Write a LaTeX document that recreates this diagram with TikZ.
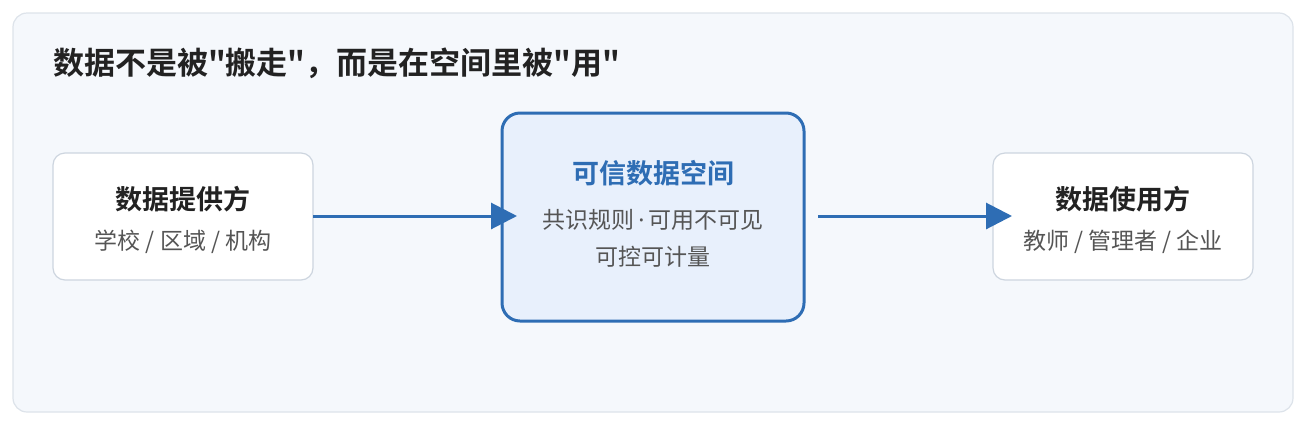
\documentclass[tikz,border=0pt]{standalone}
\usepackage{fontspec}
\setmainfont{Noto Sans CJK SC}
\newfontfamily\cjkb{Noto Sans CJK SC Bold}
\newfontfamily\latn{Noto Sans}
\usetikzlibrary{arrows.meta}
\definecolor{bgc}{HTML}{F5F8FC}
\definecolor{bgb}{HTML}{DDE3EA}
\definecolor{boxb}{HTML}{CDD5DF}
\definecolor{blu}{HTML}{2E6DB4}
\definecolor{cfill}{HTML}{E8F0FC}
\definecolor{dark}{HTML}{222222}
\definecolor{gry}{HTML}{555555}
\begin{document}
\begin{tikzpicture}[x=1pt,y=-1pt,
  side/.style={draw=boxb,line width=1.2pt,fill=white,rounded corners=12pt},
  ttl/.style={font=\cjkb\fontsize{27}{30}\selectfont,text=dark},
  sub/.style={font=\fontsize{23}{26}\selectfont,text=gry},
  arr/.style={draw=blu,line width=3pt,-{Triangle[length=26pt,width=26pt]}}]
\useasboundingbox (0,0) rectangle (1300,424);
\draw[fill=bgc,draw=bgb,line width=1.2pt,rounded corners=14pt] (13,13) rectangle (1293,412);
\node[anchor=west,inner sep=0pt,font=\cjkb\fontsize{31}{34}\selectfont,text=dark] (title) at (53,63) {数据不是被"搬走"，而是在空间里被"用"};
\draw[side] (53,153) rectangle (313,280);
\draw[side] (993,153) rectangle (1253,280);
\draw[draw=blu,fill=cfill,line width=3pt,rounded corners=18pt] (502,113) rectangle (804,321);
\coordinate (Le) at (313,216);
\coordinate (Ce) at (818,216);
\coordinate (a1) at (517,216);
\coordinate (a2) at (1012,216);
\node[ttl] (lt) at (183,199) {数据提供方};
\node[sub] (ls) at (183,242) {学校 / 区域 / 机构};
\node[ttl,text=blu] (ct) at (653,173) {可信数据空间};
\node[sub] (cs1) at (653,220) {共识规则{\latn\,·\,}可用不可见};
\node[sub] (cs2) at (653,257) {可控可计量};
\node[ttl] (rt) at (1123,199) {数据使用方};
\node[sub] (rs) at (1123,242) {教师 / 管理者 / 企业};
\draw[arr] (Le) -- (a1);
\draw[arr] (Ce) -- (a2);
\end{tikzpicture}
\end{document}
